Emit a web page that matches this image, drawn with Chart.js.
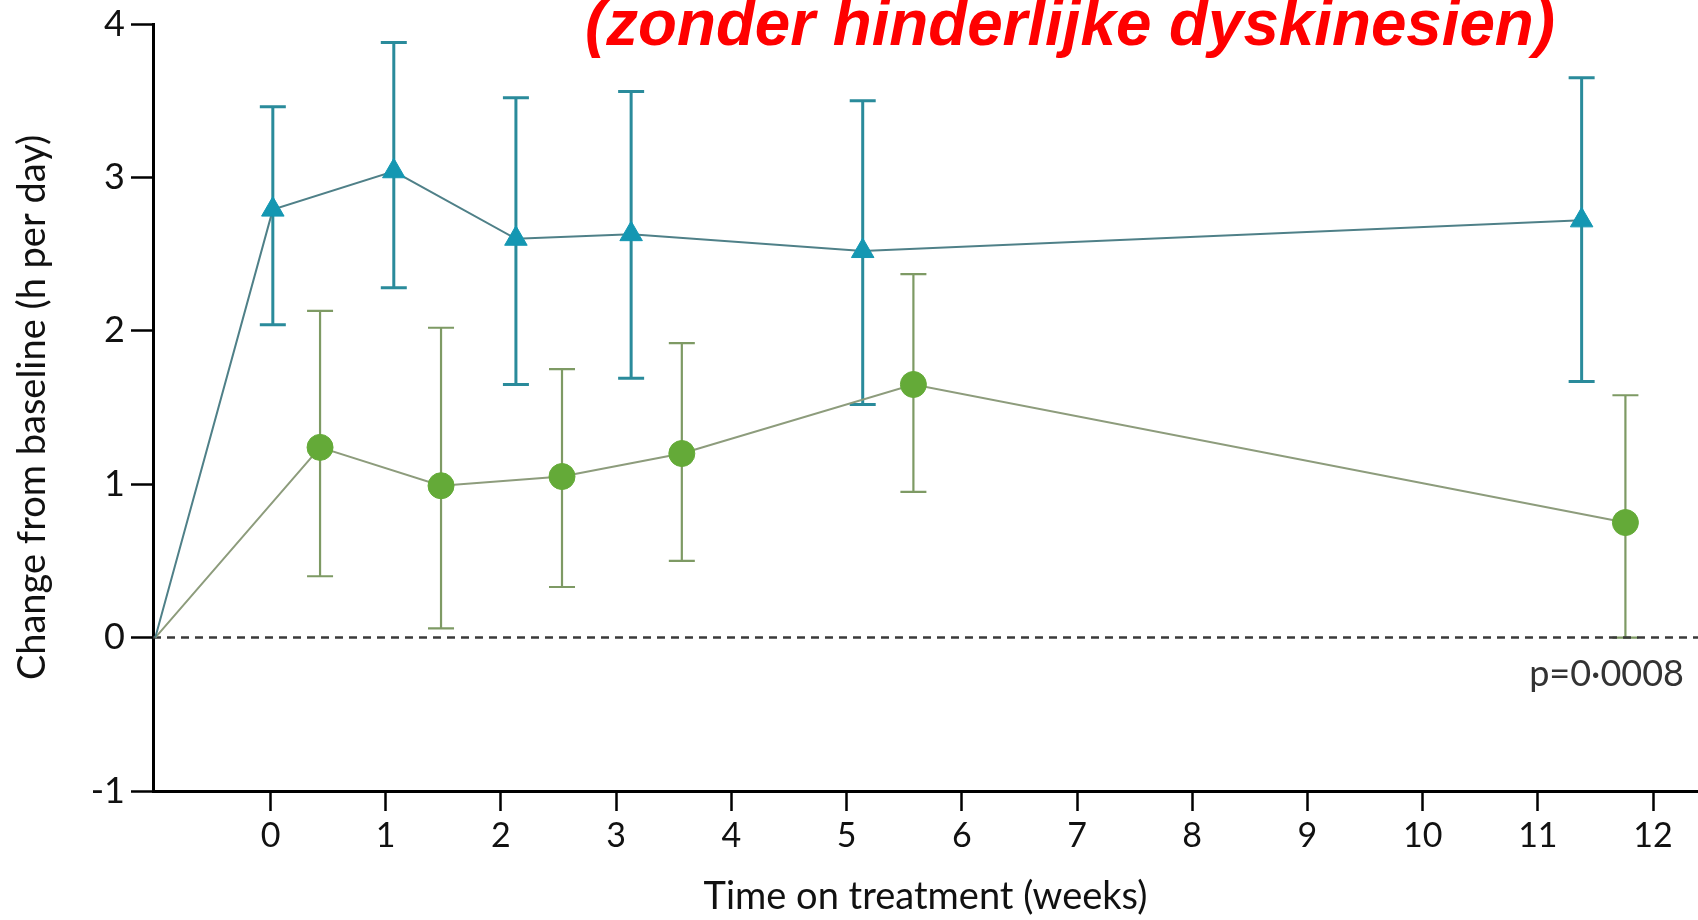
<!DOCTYPE html>
<html><head><meta charset="utf-8">
<script src="https://cdn.jsdelivr.net/npm/chart.js@4/dist/chart.umd.min.js"></script>
<style>
html,body{margin:0;padding:0;background:#fff;overflow:hidden}
#wrap{position:relative;width:1698px;height:920px}
</style>
</head><body>
<div id="wrap"><canvas id="c" width="1698" height="920"></canvas></div>
<script>
// ---- data ----
const weeksBlue  = [-1, 0.02, 1.07, 2.13, 3.13, 5.14, 11.38];
const meanBlue   = [0, 2.79, 3.04, 2.60, 2.63, 2.52, 2.72];
const upperBlue  = [null, 3.46, 3.88, 3.52, 3.56, 3.50, 3.65];
const lowerBlue  = [null, 2.04, 2.28, 1.65, 1.69, 1.52, 1.67];

const weeksGreen = [-1, 0.43, 1.48, 2.53, 3.57, 5.58, 11.76];
const meanGreen  = [0, 1.24, 0.99, 1.05, 1.20, 1.65, 0.75];
const upperGreen = [null, 2.13, 2.02, 1.75, 1.92, 2.37, 1.58];
const lowerGreen = [null, 0.40, 0.06, 0.33, 0.50, 0.95, 0.00];

const xTicks = [0, 1, 2, 3, 4, 5, 6, 7, 8, 9, 10, 11, 12];
const yTicks = [-1, 0, 1, 2, 3, 4];
const xRange = [-1.02, 12.39];
const yRange = [-1, 4];
const zeroLine = [0, 0];

const titleText = '(zonder hinderlijke dyskinesien)';
const pValueText = 'p=0\u00b70008';
const xTitle = 'Time on treatment (weeks)';
const yTitle = 'Change from baseline (h per day)';

const BLUE_MARK = '#1497b2', BLUE_BAR = '#2a8b9b', BLUE_LINE = '#4f8088';
const GREEN_MARK = '#64aa38', GREEN_BAR = '#7e9a64', GREEN_LINE = '#8d9c7c';
const FONT = "Lato, 'Open Sans', sans-serif";

const pts = (xs, ys) => xs.map((x, i) => ({x: x, y: ys[i]}));

const errorBars = {
  id: 'errorBars',
  beforeDatasetsDraw(chart) {
    const {ctx, scales: {x, y}} = chart;
    const sets = [
      {xs: weeksGreen, lo: lowerGreen, hi: upperGreen, c: GREEN_BAR, w: 2.2},
      {xs: weeksBlue, lo: lowerBlue, hi: upperBlue, c: BLUE_BAR, w: 3}
    ];
    ctx.save();
    sets.forEach(s => {
      ctx.strokeStyle = s.c; ctx.lineWidth = s.w;
      s.xs.forEach((xv, i) => {
        if (s.lo[i] === null) return;
        const px = x.getPixelForValue(xv);
        const p1 = y.getPixelForValue(s.lo[i]);
        const p2 = y.getPixelForValue(s.hi[i]);
        ctx.beginPath();
        ctx.moveTo(px, p1); ctx.lineTo(px, p2);
        ctx.moveTo(px - 13, p1); ctx.lineTo(px + 13, p1);
        ctx.moveTo(px - 13, p2); ctx.lineTo(px + 13, p2);
        ctx.stroke();
      });
    });
    ctx.restore();
  }
};

const texts = {
  id: 'texts',
  afterDraw(chart) {
    const {ctx, scales: {x, y}} = chart;
    ctx.save();
    // red title
    ctx.fillStyle = '#ff0000';
    ctx.font = "italic bold 64px 'Liberation Sans Narrow', 'Liberation Sans', Arial, sans-serif";
    ctx.textBaseline = 'alphabetic';
    ctx.textAlign = 'left';
    const w = ctx.measureText(titleText).width;
    const target = 970;
    ctx.translate(585, 45);
    ctx.scale(target / w, 1);
    ctx.fillText(titleText, 0, 0);
    ctx.restore();
    // p value
    ctx.save();
    ctx.fillStyle = '#333333';
    ctx.font = '36px ' + FONT;
    ctx.textAlign = 'right';
    ctx.textBaseline = 'alphabetic';
    ctx.fillText(pValueText, 1684, y.getPixelForValue(0) + 48);
    ctx.restore();
  }
};

new Chart(document.getElementById('c'), {
  type: 'scatter',
  data: {
    datasets: [
      {
        data: pts(xRange, zeroLine), showLine: true, borderColor: '#3a3a3a',
        borderWidth: 2.5, borderDash: [8, 6], pointRadius: 0, order: 3
      },
      {
        data: pts(weeksGreen, meanGreen), showLine: true, borderColor: GREEN_LINE,
        borderWidth: 2, pointStyle: 'circle', order: 2,
        pointRadius: weeksGreen.map((_, i) => i === 0 ? 0 : 13),
        pointBackgroundColor: GREEN_MARK, pointBorderColor: GREEN_MARK, pointBorderWidth: 1
      },
      {
        data: pts(weeksBlue, meanBlue), showLine: true, borderColor: BLUE_LINE,
        borderWidth: 2, pointStyle: 'triangle', order: 1,
        pointRadius: weeksBlue.map((_, i) => i === 0 ? 0 : 13),
        pointBackgroundColor: BLUE_MARK, pointBorderColor: BLUE_MARK, pointBorderWidth: 1
      }
    ]
  },
  options: {
    responsive: false,
    animation: false,
    events: [],
    layout: {autoPadding: false, padding: {top: 24, right: 0, bottom: 0, left: 0}},
    plugins: {legend: {display: false}, tooltip: {enabled: false}, title: {display: false}},
    scales: {
      x: {
        type: 'linear', min: xRange[0], max: xRange[1],
        afterBuildTicks: s => { s.ticks = xTicks.map(v => ({value: v})); },
        afterFit: s => { s.height = 129; s.paddingLeft = 0; s.paddingRight = 0; },
        border: {display: true, color: '#000', width: 3},
        grid: {display: true, drawOnChartArea: false, drawTicks: true, tickLength: 20, tickWidth: 2.5, tickColor: '#000'},
        ticks: {color: '#111', font: {family: FONT, size: 34}, padding: 5, maxRotation: 0, autoSkip: false},
        title: {display: true, text: xTitle, color: '#111', font: {family: FONT, size: 38}, padding: {top: 0, bottom: 0}}
      },
      y: {
        type: 'linear', min: yRange[0], max: yRange[1],
        afterBuildTicks: s => { s.ticks = yTicks.map(v => ({value: v})); },
        afterFit: s => { s.width = 153; s.paddingTop = 0; s.paddingBottom = 0; },
        border: {display: true, color: '#000', width: 3},
        grid: {display: true, drawOnChartArea: false, drawTicks: true, tickLength: 22, tickWidth: 2.5, tickColor: '#000'},
        ticks: {color: '#111', font: {family: FONT, size: 36}, padding: 6},
        title: {display: true, text: yTitle, color: '#111', font: {family: FONT, size: 38}, padding: {top: 10, bottom: 0}}
      }
    }
  },
  plugins: [errorBars, texts]
});
</script>
</body></html>
